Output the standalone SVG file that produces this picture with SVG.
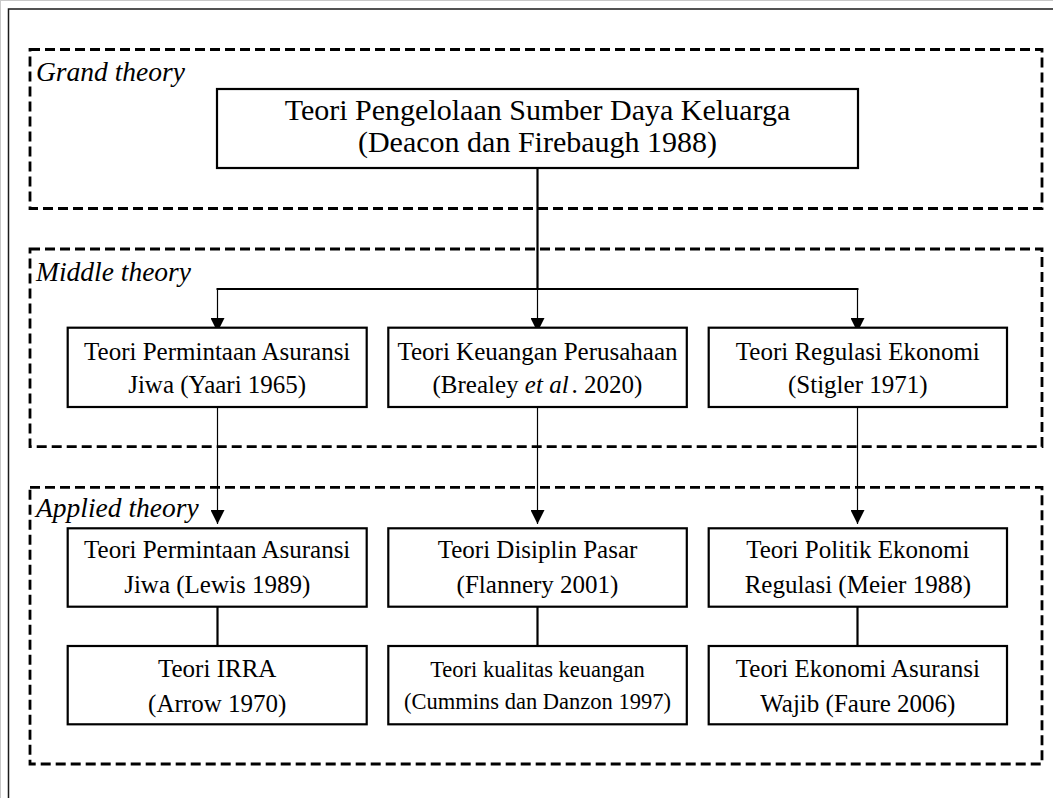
<svg xmlns="http://www.w3.org/2000/svg" width="1053" height="798" viewBox="0 0 1053 798">
  <style>
    .page { fill: #ffffff; }
    .edge { fill: none; stroke: #c8c8c8; stroke-width: 1; }
    .frame { fill: none; stroke: #1a1a1a; stroke-width: 1.5; }
    .tier { fill: none; stroke: #000; stroke-width: 2.8; stroke-dasharray: 10 5; }
    .box { fill: #fff; stroke: #000; stroke-width: 2.2; }
    .t { font-family: "Liberation Serif", "Times New Roman", serif; fill: #000; text-anchor: middle; }
    .title { font-size: 30px; }
    .body { font-size: 25px; }
    .small { font-size: 22.5px; }
    .tierlabel { font-family: "Liberation Serif", "Times New Roman", serif; font-style: italic; font-size: 27.5px; fill: #000; }
    .it { font-style: italic; }
    .link { fill: none; stroke: #000; stroke-width: 2.2; }
    .arrow { fill: none; stroke: #000; stroke-width: 1.2; marker-end: url(#head); }
  </style>
  <defs>
    <marker id="head" markerUnits="userSpaceOnUse" markerWidth="14" markerHeight="14" refX="14" refY="7" orient="auto" viewBox="0 0 14 14">
      <path d="M0,0 L14,7 L0,14 Z" fill="#000"/>
    </marker>
  </defs>

  <rect class="page" x="0" y="0" width="1053" height="798"/>
  <rect class="edge" x="0.5" y="0.5" width="1100" height="900"/>
  <rect class="frame" x="8.5" y="9" width="1100" height="900"/>

  <!-- tier frames -->
  <g id="tiers">
    <rect class="tier" x="30" y="49.5" width="1012" height="159"/>
    <rect class="tier" x="30" y="249" width="1012" height="197.7"/>
    <rect class="tier" x="30" y="487.3" width="1012" height="276.7"/>
    <text class="tierlabel" x="36" y="80.5">Grand theory</text>
    <text class="tierlabel" x="36" y="280.7">Middle theory</text>
    <text class="tierlabel" x="36" y="517.3">Applied theory</text>
  </g>

  <!-- connectors -->
  <g id="connectors">
    <line class="link" x1="537.5" y1="168" x2="537.5" y2="289"/>
    <line class="link" x1="216.5" y1="289" x2="858.5" y2="289"/>
    <line class="arrow" x1="217.5" y1="289" x2="217.5" y2="332"/>
    <line class="arrow" x1="537.5" y1="289" x2="537.5" y2="332"/>
    <line class="arrow" x1="857.5" y1="289" x2="857.5" y2="332"/>
    <line class="arrow" x1="217.5" y1="407" x2="217.5" y2="524"/>
    <line class="arrow" x1="537.5" y1="407" x2="537.5" y2="524"/>
    <line class="arrow" x1="857.5" y1="407" x2="857.5" y2="524"/>
    <line class="link" x1="217.5" y1="606.7" x2="217.5" y2="646"/>
    <line class="link" x1="537.5" y1="606.7" x2="537.5" y2="646"/>
    <line class="link" x1="857.5" y1="606.7" x2="857.5" y2="646"/>
  </g>

  <!-- grand theory -->
  <g id="grand">
    <rect class="box" x="217" y="89" width="641" height="79"/>
    <text class="t title" x="537.5" y="119.5">Teori Pengelolaan Sumber Daya Keluarga</text>
    <text class="t title" x="537.5" y="152">(Deacon dan Firebaugh 1988)</text>
  </g>

  <!-- middle theory -->
  <g id="mid-demand">
    <rect class="box" x="67.7" y="327.7" width="299" height="79.3"/>
    <text class="t body" x="217.2" y="360">Teori Permintaan Asuransi</text>
    <text class="t body" x="217.2" y="393.3">Jiwa (Yaari 1965)</text>
  </g>
  <g id="mid-finance">
    <rect class="box" x="388.3" y="327.7" width="298.5" height="79.3"/>
    <text class="t body" x="537.5" y="360">Teori Keuangan Perusahaan</text>
    <text class="t body" x="537.5" y="393.3">(Brealey <tspan class="it">et al</tspan><tspan dx="3">. 2020)</tspan></text>
  </g>
  <g id="mid-regulation">
    <rect class="box" x="708.7" y="327.7" width="298.3" height="79.3"/>
    <text class="t body" x="857.8" y="360">Teori Regulasi Ekonomi</text>
    <text class="t body" x="857.8" y="393.3">(Stigler 1971)</text>
  </g>

  <!-- applied theory, first row -->
  <g id="app-demand">
    <rect class="box" x="67.7" y="528.3" width="299" height="78.4"/>
    <text class="t body" x="217.2" y="558.3">Teori Permintaan Asuransi</text>
    <text class="t body" x="217.2" y="593.3">Jiwa (Lewis 1989)</text>
  </g>
  <g id="app-market">
    <rect class="box" x="388.3" y="528.3" width="298.5" height="78.4"/>
    <text class="t body" x="537.5" y="558.3">Teori Disiplin Pasar</text>
    <text class="t body" x="537.5" y="593.3">(Flannery 2001)</text>
  </g>
  <g id="app-politics">
    <rect class="box" x="708.7" y="528.3" width="298.3" height="78.4"/>
    <text class="t body" x="857.8" y="558.3">Teori Politik Ekonomi</text>
    <text class="t body" x="857.8" y="593.3">Regulasi (Meier 1988)</text>
  </g>

  <!-- applied theory, second row -->
  <g id="app-irra">
    <rect class="box" x="67.7" y="646" width="299" height="78.3"/>
    <text class="t body" x="217.2" y="676.7">Teori IRRA</text>
    <text class="t body" x="217.2" y="711.7">(Arrow 1970)</text>
  </g>
  <g id="app-quality">
    <rect class="box" x="388.3" y="646" width="298.5" height="78.3"/>
    <text class="t small" x="537.5" y="677.3">Teori kualitas keuangan</text>
    <text class="t small" x="537.5" y="708.5">(Cummins dan Danzon 1997)</text>
  </g>
  <g id="app-mandatory">
    <rect class="box" x="708.7" y="646" width="298.3" height="78.3"/>
    <text class="t body" x="857.8" y="676.7">Teori Ekonomi Asuransi</text>
    <text class="t body" x="857.8" y="711.7">Wajib (Faure 2006)</text>
  </g>
</svg>
